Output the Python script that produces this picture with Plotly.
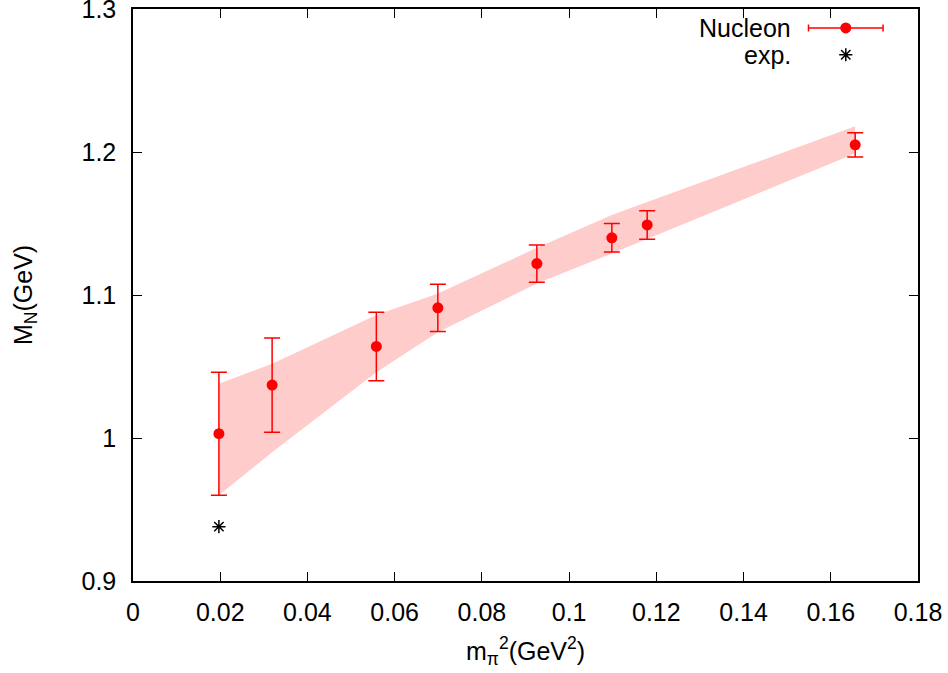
import plotly.graph_objects as go

# Lattice data: m_pi^2 (GeV^2), nucleon mass (GeV), error
mpi2 = [0.0197, 0.0319, 0.0558, 0.0699, 0.0926, 0.1098, 0.1179, 0.1656]
mass = [1.003, 1.037, 1.064, 1.091, 1.122, 1.140, 1.149, 1.205]
err = [0.043, 0.033, 0.024, 0.0165, 0.013, 0.010, 0.010, 0.0085]

# Fit band (upper/lower) at the same x values
band_upper = [1.038, 1.052, 1.086, 1.101, 1.133, 1.156, 1.165, 1.218]
band_lower = [0.960, 0.990, 1.046, 1.074, 1.108, 1.129, 1.139, 1.199]

# Experimental point
exp_x = [0.0197]
exp_y = [0.938]

x_ticks = [0, 0.02, 0.04, 0.06, 0.08, 0.1, 0.12, 0.14, 0.16, 0.18]
y_ticks = [0.9, 1.0, 1.1, 1.2, 1.3]

FONT = "Liberation Sans"
FS = 25
RED = "#ff0000"

fig = go.Figure()

fig.add_trace(go.Scatter(
    x=mpi2 + mpi2[::-1], y=band_upper + band_lower[::-1],
    fill="toself", fillcolor="rgb(255,204,204)", line=dict(width=0),
    mode="lines", hoverinfo="skip", showlegend=False))

fig.add_trace(go.Scatter(
    x=mpi2, y=mass, mode="markers",
    marker=dict(color=RED, size=11, symbol="circle"),
    error_y=dict(type="data", array=err, color=RED, thickness=1.5, width=8),
    showlegend=False))

fig.add_trace(go.Scatter(
    x=exp_x, y=exp_y, mode="markers",
    marker=dict(symbol="asterisk-open", size=11, color="black",
                line=dict(color="black", width=1.5)),
    showlegend=False))

# Legend samples (gnuplot-style: text on the left, sample on the right)
leg_x = 0.908
leg_y1 = 0.967
leg_y2 = 0.920
fig.add_trace(go.Scatter(
    x=[leg_x], y=[leg_y1], xaxis="x2", yaxis="y2", mode="markers",
    marker=dict(color=RED, size=11),
    error_x=dict(type="data", array=[0.0475], color=RED, thickness=1.5, width=3.5),
    showlegend=False, hoverinfo="skip", cliponaxis=False))
fig.add_trace(go.Scatter(
    x=[leg_x], y=[leg_y2], xaxis="x2", yaxis="y2", mode="markers",
    marker=dict(symbol="asterisk-open", size=11, color="black",
                line=dict(color="black", width=1.5)),
    showlegend=False, hoverinfo="skip", cliponaxis=False))

fig.add_annotation(x=0.841, y=leg_y1, xref="paper", yref="paper", text="Nucleon",
                   showarrow=False, xanchor="right", yanchor="middle",
                   font=dict(family=FONT, size=FS, color="black"))
fig.add_annotation(x=0.841, y=leg_y2, xref="paper", yref="paper", text="exp.",
                   showarrow=False, xanchor="right", yanchor="middle",
                   font=dict(family=FONT, size=FS, color="black"))

# Axis titles
fig.add_annotation(x=0.5, y=-0.088, xref="paper", yref="paper",
                   text="m<sub>π</sub><sup>2</sup>(GeV<sup>2</sup>)",
                   showarrow=False, xanchor="center", yanchor="top",
                   font=dict(family=FONT, size=FS, color="black"))
fig.add_annotation(x=-0.1376, y=0.5, xref="paper", yref="paper",
                   text="M<sub>N</sub>(GeV)", textangle=-90,
                   showarrow=False, xanchor="center", yanchor="middle",
                   font=dict(family=FONT, size=FS, color="black"))

axis_common = dict(
    showline=True, linecolor="black", linewidth=1.5, mirror="ticks",
    ticks="inside", ticklen=9, tickwidth=1, tickcolor="black",
    showgrid=False, zeroline=False, automargin=False,
    ticklabeloverflow="allow",
    tickfont=dict(family=FONT, size=FS, color="black"),
)

fig.update_layout(
    width=948, height=673,
    margin=dict(l=133, r=30, t=9, b=92, autoexpand=False),
    paper_bgcolor="white", plot_bgcolor="white",
    font=dict(family=FONT, size=FS, color="black"),
    xaxis=dict(range=[0, 0.18], tickvals=x_ticks,
               ticktext=[("%g" % v) for v in x_ticks],
               ticklabelstandoff=8, **axis_common),
    yaxis=dict(range=[0.9, 1.3], tickvals=y_ticks,
               ticktext=[("%g" % v) for v in y_ticks],
               ticklabelstandoff=10, **axis_common),
    xaxis2=dict(range=[0, 1], overlaying="x", visible=False),
    yaxis2=dict(range=[0, 1], overlaying="y", visible=False),
    showlegend=False,
)

fig.write_html("out.html", config={"displayModeBar": False},
               post_script="document.body.style.margin='0';document.body.style.overflow='hidden';")
